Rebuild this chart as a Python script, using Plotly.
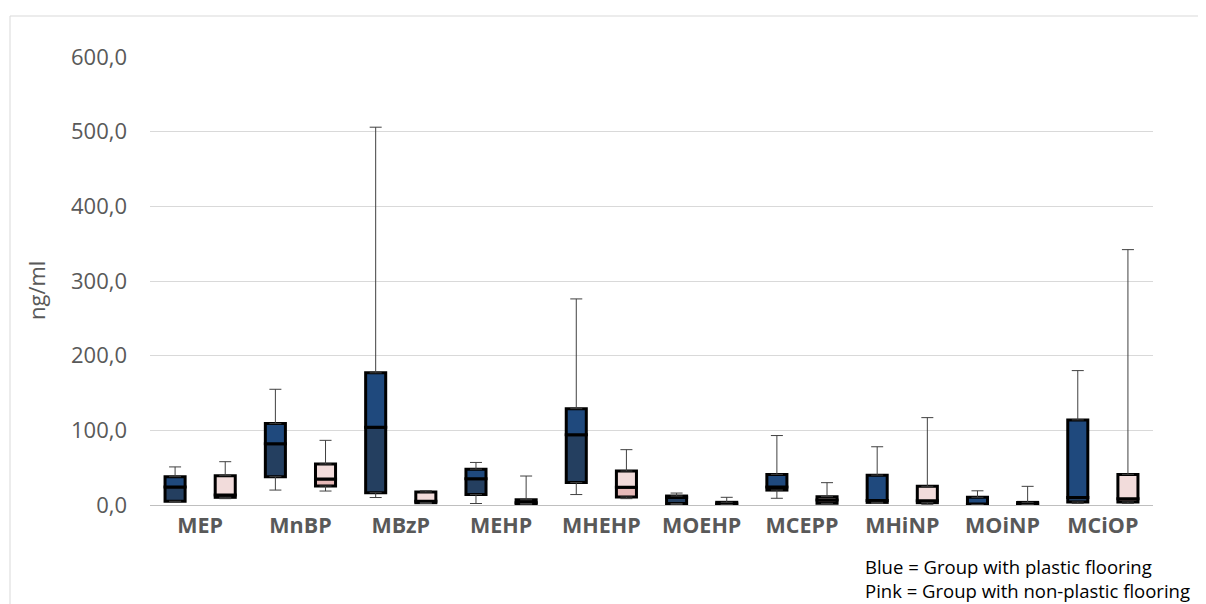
import plotly.graph_objects as go

categories = ["MEP", "MnBP", "MBzP", "MEHP", "MHEHP", "MOEHP", "MCEPP", "MHiNP", "MOiNP", "MCiOP"]

# Blue = group with plastic flooring
blue_min = [4, 20, 10, 2, 14, 0.5, 9, 2, 0.5, 2]
blue_q1 = [5, 38, 16.5, 14, 30, 2, 20, 3.5, 0.5, 4]
blue_median = [24, 82, 104, 35, 94, 10, 24, 6, 1.5, 10]
blue_q3 = [38, 109, 177, 48, 129, 12, 41, 40, 10.3, 114]
blue_max = [51, 155, 506, 57, 276, 16, 93, 78, 19, 180]

# Pink = group with non-plastic flooring
pink_min = [8.5, 18.7, 2, 1, 8.5, 0.3, 1, 1, 0.3, 2]
pink_q1 = [10.3, 25.4, 3.1, 2, 10.7, 0.5, 2.2, 3.1, 0.5, 4]
pink_median = [13.4, 34.8, 5, 3, 23.7, 1.5, 6.7, 5.8, 1.5, 8.5]
pink_q3 = [39.3, 54.9, 17.4, 7, 45.5, 3.6, 11.2, 25, 3.5, 41]
pink_max = [58, 86.6, 19.2, 38.8, 74.1, 10.3, 29.9, 117, 25, 342]

y_ticks = [0, 100, 200, 300, 400, 500, 600]

FONT = "Open Sans"
n = len(categories)
blue_x = [2 * i for i in range(n)]
pink_x = [2 * i + 1 for i in range(n)]
BW = 0.40

fig = go.Figure()


def add_group(xs, mn, q1, med, q3, mx, c_low, c_high):
    fig.add_trace(go.Bar(
        x=xs, y=[m - a for m, a in zip(med, q1)], base=q1, width=BW,
        marker=dict(color=c_low, line=dict(color="black", width=3)),
        showlegend=False, hoverinfo="skip"))
    fig.add_trace(go.Bar(
        x=xs, y=[b - m for b, m in zip(q3, med)], base=med, width=BW,
        marker=dict(color=c_high, line=dict(color="black", width=3)),
        showlegend=False, hoverinfo="skip"))
    # upper whisker
    fig.add_trace(go.Scatter(
        x=xs, y=q3, mode="markers", marker=dict(size=1, opacity=0),
        error_y=dict(type="data", symmetric=False,
                     array=[b - a for b, a in zip(mx, q3)],
                     arrayminus=[0] * len(xs), width=6, thickness=1, color="#404040"),
        showlegend=False, hoverinfo="skip"))
    # lower whisker
    fig.add_trace(go.Scatter(
        x=xs, y=q1, mode="markers", marker=dict(size=1, opacity=0),
        error_y=dict(type="data", symmetric=False,
                     array=[0] * len(xs),
                     arrayminus=[a - b for a, b in zip(q1, mn)], width=6, thickness=1, color="#404040"),
        showlegend=False, hoverinfo="skip"))


add_group(blue_x, blue_min, blue_q1, blue_median, blue_q3, blue_max, "#243F60", "#1F497D")
add_group(pink_x, pink_min, pink_q1, pink_median, pink_q3, pink_max, "#E6B9B8", "#F2DCDB")

OFF = 8  # page body margin
W, H = 1206, 604
L, T = 150 - OFF, 57 - OFF
R = W - (1153 - OFF)
B = H - (505 - OFF)
pw, ph = W - L - R, H - T - B


def px_x(p):
    return (p - OFF - L) / pw


def px_y(p):
    return (H - B - (p - OFF)) / ph


fig.update_layout(
    width=W, height=H,
    margin=dict(l=L, r=R, t=T, b=B, pad=0),
    paper_bgcolor="white", plot_bgcolor="white",
    barmode="overlay",
    separators=",.",
    font=dict(family=FONT, color="#595959"),
    xaxis=dict(
        range=[-0.5, 2 * n - 0.5],
        tickvals=[2 * i + 0.5 for i in range(n)],
        ticktext=categories,
        tickfont=dict(family=FONT, size=21.5, color="#595959", weight="bold"),
        ticks="", showgrid=False, zeroline=False,
        showline=False, ticklabelstandoff=5,
    ),
    yaxis=dict(
        range=[0, 600], tickvals=y_ticks, tickformat=".1f",
        tickfont=dict(family=FONT, size=22, color="#595959"),
        ticks="", showgrid=True, gridcolor="#D9D9D9", gridwidth=1,
        zeroline=True, zerolinecolor="#BFBFBF", zerolinewidth=1,
        showline=False, ticklabelstandoff=22,
    ),
    annotations=[
        dict(text="ng/ml", textangle=-90, xref="paper", yref="paper",
             x=px_x(36), y=px_y(291), xanchor="center", yanchor="middle",
             showarrow=False, font=dict(family=FONT, size=22, color="#595959")),
        dict(text="Blue = Group with plastic flooring<br>Pink = Group with non-plastic flooring",
             xref="paper", yref="paper", x=px_x(863), y=px_y(552),
             xanchor="left", yanchor="top", align="left", showarrow=False,
             font=dict(family=FONT, size=18.5, color="black")),
    ],
    shapes=[
        dict(type="rect", xref="paper", yref="paper",
             x0=px_x(10), y0=px_y(700), x1=px_x(1400), y1=px_y(16),
             line=dict(color="#D9D9D9", width=1), fillcolor="rgba(0,0,0,0)", layer="below"),
    ],
)

fig.write_html("out.html")
